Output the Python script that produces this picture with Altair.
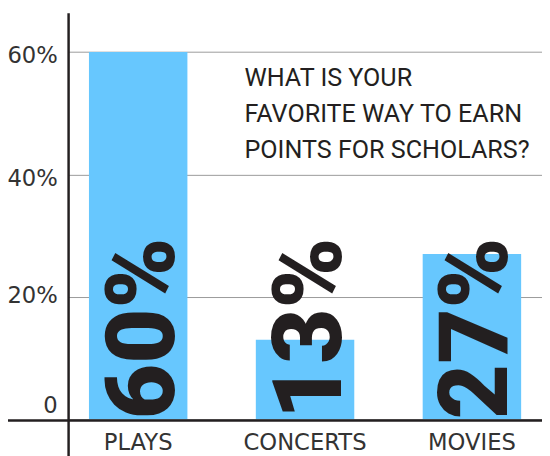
import altair as alt
import pandas as pd

categories = ["PLAYS", "CONCERTS", "MOVIES"]
values = [60, 13, 27]
labels = ["60%", "13%", "27%"]
y_ticks = [0, 20, 40, 60]
question = ["WHAT IS YOUR", "FAVORITE WAY TO EARN", "POINTS FOR SCHOLARS?"]

W, H = 481, 408
df = pd.DataFrame({"cat": categories, "val": values, "lab": labels})
one = pd.DataFrame({"k": [0]})

xs = alt.Scale(domain=categories, paddingInner=0.41, paddingOuter=0.125)
ys = alt.Scale(domain=[0, 65.7], nice=False, zero=True)

base = alt.Chart(df)

bars = base.mark_bar(color="#67c7fe").encode(
    x=alt.X("cat:N", scale=xs, sort=categories,
            axis=alt.Axis(title=None, labelAngle=0, domain=False, ticks=False,
                          labelFont="DejaVu Sans", labelFontWeight="normal",
                          labelFontSize=23, labelColor="#333333", labelPadding=13)),
    y=alt.Y("val:Q", scale=ys,
            axis=alt.Axis(title=None, values=y_ticks, domain=False, ticks=False,
                          grid=True, gridColor="#9a9a9a", gridWidth=1,
                          labelExpr="datum.value == 0 ? '0' : datum.value + '%'",
                          labelFont="DejaVu Sans", labelFontWeight="normal",
                          labelFontSize=23, labelColor="#333333", labelPadding=11,
                          labelBaseline="middle",
                          labelOffset={"expr": "datum.value == 0 ? -14 : (datum.value == 20 ? -1 : 4)"})),
)

big = base.mark_text(
    angle=270, align="left", baseline="alphabetic", dy=36,
    font="Roboto", fontWeight=900, fontSize=97, color="#231f20",
).encode(
    x=alt.X("cat:N", scale=xs, sort=categories),
    y=alt.datum(0),
    text="lab:N",
)

title = alt.Chart(one).mark_text(
    align="left", baseline="alphabetic", font="Roboto",
    fontSize=25.5, lineHeight=36.5, color="#231f20",
).encode(x=alt.value(179), y=alt.value(70), text=alt.value(question))

yline = alt.Chart(one).mark_rule(color="#231f20", strokeWidth=2.5).encode(
    x=alt.value(0.5), y=alt.value(-4), y2=alt.value(H + 60))
xline = alt.Chart(one).mark_rule(color="#231f20", strokeWidth=2.5).encode(
    x=alt.value(-61), x2=alt.value(W + 20), y=alt.value(H + 1.3))

chart = alt.layer(bars, big, title, yline, xline).properties(
    width=W, height=H,
    autosize=alt.AutoSizeParams(type="none"),
    padding={"left": 61, "top": 6, "right": 0, "bottom": 34},
).configure_view(stroke=None)

chart.save("out.html", embed_options={"renderer": "svg", "actions": False})
